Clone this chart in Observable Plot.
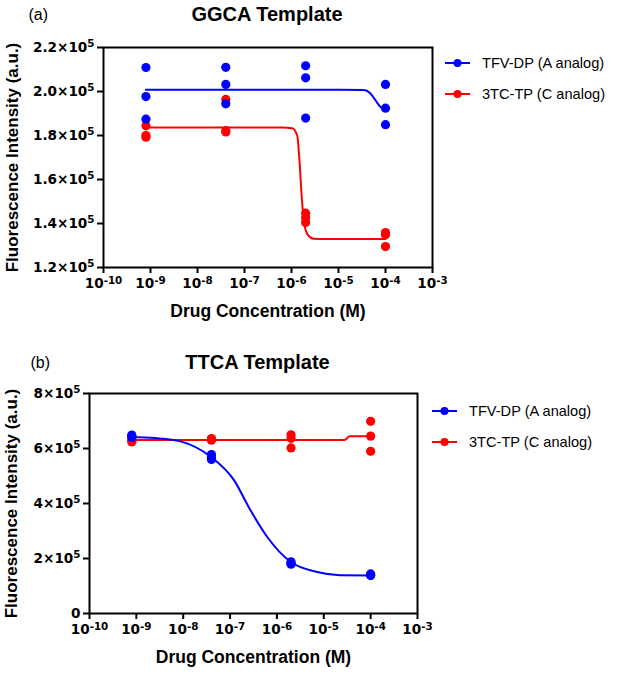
<!DOCTYPE html>
<html><head><meta charset="utf-8">
<script src="https://cdn.jsdelivr.net/npm/d3@7"></script>
<script src="https://cdn.jsdelivr.net/npm/@observablehq/plot@0.6"></script>
<style>
body{margin:0;background:#fff;font-family:"Liberation Sans",Arial,sans-serif;}
#wrap{position:relative;width:630px;height:674px;overflow:hidden;}
.panel{position:absolute;left:0;}
.lrow{position:absolute;white-space:nowrap;font-size:14.6px;color:#000;line-height:16px;}
.lrow svg{position:absolute;left:0;top:-5px;}
.lrow span{position:absolute;top:-8px;}
</style></head><body><div id="wrap"></div>
<script>
// ---- shared ----
const conc = [8e-10, 4e-8, 2e-6, 1e-4];
const seriesNames = ["TFV-DP (A analog)", "3TC-TP (C analog)"];
const seriesColors = ["#0000ff", "#ff0000"];
const xTicks = [1e-10, 1e-9, 1e-8, 1e-7, 1e-6, 1e-5, 1e-4, 1e-3];
const xLabel = "Drug Concentration (M)";
const yLabel = "Fluorescence Intensity (a.u.)";

// ---- (a) GGCA template: replicates per concentration ----
const ggcaTitle = "GGCA Template";
const ggcaTFV = [[210900, 197700, 187400], [211000, 203200, 194400], [211700, 206200, 187900], [203200, 192400, 184900]];
const ggca3TC = [[184400, 180000, 179200], [196400, 182200, 181600], [144700, 142600, 140500], [135900, 134900, 129500]];
// fitted curves (log10 concentration, intensity)
const ggcaTFVFitLogX = [-9.1, -5.0, -4.46, -4.33, -4.2, -4.1, -4.0];
const ggcaTFVFitY = [200800, 200800, 200700, 199300, 195600, 192900, 192400];
const ggca3TCFitLogX = [-9.1, -6.2, -5.985, -5.879, -5.83, -5.787, -5.738, -5.666, -5.525, -5.3, -4.0];
const ggca3TCFitY = [183600, 183600, 183300, 180000, 168600, 153500, 141400, 135300, 133100, 133000, 133000];
const ggcaYTicks = [120000, 140000, 160000, 180000, 200000, 220000];

// ---- (b) TTCA template ----
const ttcaTitle = "TTCA Template";
const ttcaTFV = [[649000, 640000, 645000], [578000, 560000, 568000], [188000, 179000, 183000], [144000, 138000, 140000]];
const ttca3TC = [[624000, 628000, 632000], [633000, 630000, 636000], [650000, 637000, 602000], [699000, 645000, 590000]];
const ttcaTFVFitLogX = [-9.126, -8.6, -8.06, -7.42, -6.92, -6.57, -6.21, -5.71, -5.14, -4.65, -3.99];
const ttcaTFVFitY = [642000, 638000, 626000, 571000, 486000, 377000, 279000, 188000, 151000, 139000, 138000];
const ttca3TCFitLogX = [-9.126, -4.56, -4.5, -4.46, -3.99];
const ttca3TCFitY = [631000, 631000, 637000, 645000, 645000];
const ttcaYTicks = [0, 200000, 400000, 600000, 800000];

// ---- helpers ----
const fmtX = d => "10^" + Math.round(Math.log10(d));
const fmtYa = d => (d / 1e5).toFixed(1) + "\u00D710^5";
const fmtYb = d => d === 0 ? "0" : (d / 1e5) + "\u00D710^5";
const LIB = "'Liberation Sans', Arial, sans-serif";

const reps = arr => arr.flatMap((vals, i) => vals.map(v => ({x: conc[i], y: v})));
const fit = (lx, ys) => lx.map((l, i) => ({x: Math.pow(10, l), y: ys[i]}));

// turn "base^exp" tick labels into real superscripts
function superscripts(svg) {
  svg.querySelectorAll("text").forEach(t => {
    const s = t.textContent;
    if (!s.includes("^") || t.querySelector("tspan")) return;
    const [base, exp] = s.split("^");
    t.textContent = "";
    const NS = "http://www.w3.org/2000/svg";
    const b = document.createElementNS(NS, "tspan");
    b.textContent = base;
    const e = document.createElementNS(NS, "tspan");
    e.textContent = exp;
    e.setAttribute("dy", "-0.45em");
    e.setAttribute("font-size", "0.76em");
    t.appendChild(b); t.appendChild(e);
  });
}

function panel({title, tag, tfv, tc, tfvFit, tcFit, yTicks, yDomain, fmtY, width, height, ml, mr, mt, mb, titleDx, titleDy, tagDx, tagDy, yLabDx}) {
  const svg = Plot.plot({
    width, height, marginLeft: ml, marginRight: mr, marginTop: mt, marginBottom: mb,
    style: {fontFamily: "'DejaVu Sans', sans-serif", fontSize: "13.6px", fontWeight: "bold", color: "#000", background: "white", overflow: "visible"},
    x: {type: "log", domain: [1e-10, 1e-3]},
    y: {domain: yDomain},
    marks: [
      Plot.axisX({ticks: xTicks, tickFormat: fmtX, tickSize: 6, tickPadding: 5, strokeWidth: 2, label: null}),
      Plot.axisY({ticks: yTicks, tickFormat: fmtY, tickSize: 6, tickPadding: 3, strokeWidth: 2, label: null}),
      Plot.frame({stroke: "#000", strokeWidth: 2}),
      Plot.line(tcFit, {x: "x", y: "y", stroke: seriesColors[1], strokeWidth: 2, curve: "monotone-x"}),
      Plot.dot(tc, {x: "x", y: "y", r: 4.6, fill: seriesColors[1]}),
      Plot.line(tfvFit, {x: "x", y: "y", stroke: seriesColors[0], strokeWidth: 2, curve: "monotone-x"}),
      Plot.dot(tfv, {x: "x", y: "y", r: 4.6, fill: seriesColors[0]}),
      Plot.text([title], {text: d => d, frameAnchor: "top", dx: titleDx, dy: titleDy, fontFamily: LIB, fontSize: 20, fontWeight: "bold"}),
      Plot.text([tag], {text: d => d, frameAnchor: "top-left", textAnchor: "start", dx: tagDx, dy: tagDy, fontFamily: LIB, fontSize: 16, fontWeight: "normal"}),
      Plot.text([xLabel], {text: d => d, frameAnchor: "bottom", dy: 49, fontFamily: LIB, fontSize: 17.5, fontWeight: "bold"}),
      Plot.text([yLabel], {text: d => d, frameAnchor: "left", textAnchor: "middle", dx: yLabDx, rotate: -90, fontFamily: LIB, fontSize: 17, fontWeight: "bold"})
    ]
  });
  superscripts(svg);
  return svg;
}

const wrap = document.getElementById("wrap");

const a = panel({title: ggcaTitle, tag: "(a)", tfv: reps(ggcaTFV), tc: reps(ggca3TC),
  tfvFit: fit(ggcaTFVFitLogX, ggcaTFVFitY), tcFit: fit(ggca3TCFitLogX, ggca3TCFitY),
  yTicks: ggcaYTicks, yDomain: [120000, 220000], fmtY: fmtYa,
  width: 630, height: 330, ml: 103, mr: 198, mt: 47, mb: 63,
  titleDx: -1, titleDy: -41, tagDx: -75, tagDy: -39, yLabDx: -91});
a.classList.add("panel"); a.style.top = "0px";
wrap.appendChild(a);

const b = panel({title: ttcaTitle, tag: "(b)", tfv: reps(ttcaTFV), tc: reps(ttca3TC),
  tfvFit: fit(ttcaTFVFitLogX, ttcaTFVFitY), tcFit: fit(ttca3TCFitLogX, ttca3TCFitY),
  yTicks: ttcaYTicks, yDomain: [0, 800000], fmtY: fmtYb,
  width: 630, height: 344, ml: 89, mr: 213, mt: 63, mb: 61,
  titleDx: 4, titleDy: -39, tagDx: -59, tagDy: -37, yLabDx: -78});
b.classList.add("panel"); b.style.top = "330px";
wrap.appendChild(b);

// ---- legends ----
function legend(left, tops) {
  seriesNames.forEach((name, i) => {
    const row = document.createElement("div");
    row.className = "lrow";
    row.style.left = left + "px";
    row.style.top = tops[i] + "px";
    row.innerHTML = `<svg width="28" height="10"><line x1="1" y1="5" x2="26" y2="5" stroke="${seriesColors[i]}" stroke-width="2"/><circle cx="13.5" cy="5" r="4" fill="${seriesColors[i]}"/></svg><span style="left:38px">${name}</span>`;
    wrap.appendChild(row);
  });
}
legend(444, [63, 94]);
legend(431, [411, 442]);
</script></body></html>
